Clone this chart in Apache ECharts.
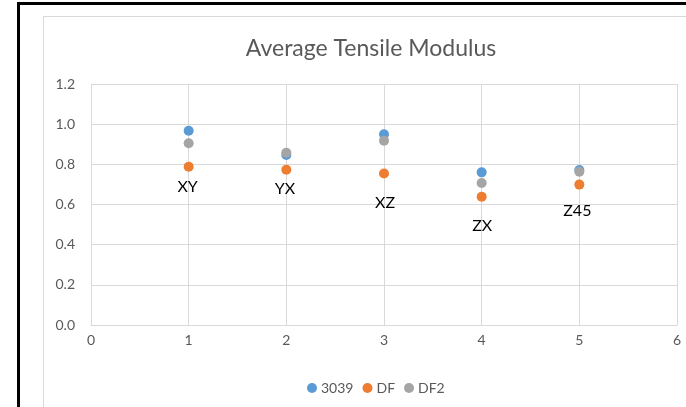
<!DOCTYPE html>
<html>
<head>
<meta charset="utf-8">
<script src="https://cdn.jsdelivr.net/npm/echarts@6/dist/echarts.min.js"></script>
<style>
  html, body { margin: 0; padding: 0; background: #fff; }
  #chart { width: 686px; height: 407px; }
</style>
</head>
<body>
<div id="chart"></div>
<script>
// Build orientations, one x position each
const orientations = ['XY', 'YX', 'XZ', 'ZX', 'Z45'];
const positions = [1, 2, 3, 4, 5];

// Average tensile modulus per material
const s3039 = [0.967, 0.847, 0.950, 0.760, 0.772];
const sDF   = [0.788, 0.773, 0.754, 0.639, 0.699];
const sDF2  = [0.905, 0.858, 0.918, 0.707, 0.763];

// Axis ticks
const xTicks = [0, 1, 2, 3, 4, 5, 6];
const yTicks = [0, 0.2, 0.4, 0.6, 0.8, 1.0, 1.2];

// Where each orientation name sits relative to its DF point (px)
const nameOffsets = [[-1, 20], [-1.5, 19], [1, 29], [0.5, 29], [-2, 26]];

const FONT = 'Lato, "Open Sans", sans-serif';
const pts = vals => positions.map((x, i) => [x, vals[i]]);

const chart = echarts.init(document.getElementById('chart'), null, { renderer: 'canvas' });

chart.setOption({
  animation: false,
  backgroundColor: '#fff',
  title: {
    text: 'Average Tensile Modulus',
    left: 366, top: 32, textAlign: 'center',
    textStyle: { fontFamily: FONT, fontSize: 23, fontWeight: 'normal', color: '#595959' }
  },
  legend: {
    left: 302, top: 376,
    icon: 'circle', itemWidth: 10, itemHeight: 10, itemGap: 9,
    textStyle: { fontFamily: FONT, fontSize: 14, color: '#595959', padding: [0, 0, 0, -1] },
    data: ['3039', 'DF', 'DF2']
  },
  grid: { left: 91, top: 84, right: 9, bottom: 82 },
  xAxis: {
    type: 'value', min: xTicks[0], max: xTicks[xTicks.length - 1], interval: 1,
    axisLine: { show: true, lineStyle: { color: '#d9d9d9', width: 1 } },
    axisTick: { show: false },
    splitLine: { show: true, lineStyle: { color: '#d9d9d9', width: 1 } },
    axisLabel: { fontFamily: FONT, fontSize: 14, color: '#595959', margin: 8 }
  },
  yAxis: {
    type: 'value', min: yTicks[0], max: yTicks[yTicks.length - 1], interval: 0.2,
    axisLine: { show: true, lineStyle: { color: '#d9d9d9', width: 1 } },
    axisTick: { show: false },
    splitLine: { show: true, lineStyle: { color: '#d9d9d9', width: 1 } },
    axisLabel: {
      fontFamily: FONT, fontSize: 14, color: '#595959', margin: 16,
      formatter: v => v.toFixed(1)
    }
  },
  graphic: [
    { type: 'rect', z: -10, silent: true,
      shape: { x: 43.5, y: 16.5, width: 700, height: 450 },
      style: { fill: 'none', stroke: '#d9d9d9', lineWidth: 1 } },
    { type: 'rect', z: 100, silent: true,
      shape: { x: 18.5, y: 3.5, width: 720, height: 460 },
      style: { fill: 'none', stroke: '#000', lineWidth: 3 } }
  ],
  series: [
    { name: '3039', type: 'scatter', symbolSize: 10, data: pts(s3039),
      itemStyle: { color: '#5B9BD5', opacity: 1 } },
    { name: 'DF', type: 'scatter', symbolSize: 10,
      itemStyle: { color: '#ED7D31', opacity: 1 },
      data: pts(sDF).map((p, i) => ({
        value: p,
        label: {
          show: true, position: 'inside', offset: nameOffsets[i],
          formatter: orientations[i],
          fontFamily: FONT, fontSize: 16, color: '#000'
        }
      })) },
    { name: 'DF2', type: 'scatter', symbolSize: 10, data: pts(sDF2),
      itemStyle: { color: '#A5A5A5', opacity: 1 } }
  ]
});
</script>
</body>
</html>
